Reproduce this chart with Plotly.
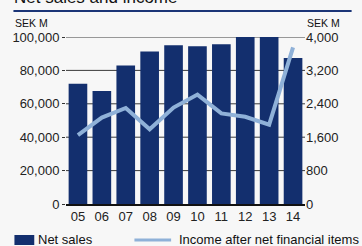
import plotly.graph_objects as go

years = ["05", "06", "07", "08", "09", "10", "11", "12", "13", "14"]
net_sales = [72000, 67700, 82900, 91300, 95000, 94400, 95600, 100500, 100500, 87400]
income = [1650, 2070, 2300, 1790, 2310, 2620, 2170, 2090, 1900, 3750]
left_ticks = [0, 20000, 40000, 60000, 80000, 100000]
right_ticks = [0, 800, 1600, 2400, 3200, 4000]

BAR = "#132f6e"
LINE = "#8fb1d8"
BG = "#f7f7f7"
FONT = "Liberation Sans, Arial, sans-serif"

W, H = 362, 246
ml, mr, mt, mb = 64, 57, 37, 42
pw, ph = W - ml - mr, H - mt - mb

def px(x):
    return (x - ml) / pw

def py(y):
    return (mt + ph - y) / ph

fig = go.Figure()
fig.add_trace(go.Bar(x=years, y=net_sales, marker=dict(color=BAR, line=dict(width=0)),
                     name="Net sales", showlegend=False))
fig.add_trace(go.Scatter(x=years, y=income, yaxis="y2", mode="lines",
                         line=dict(color=LINE, width=4), name="Income after net financial items",
                         showlegend=False))

fig.update_layout(
    width=W, height=H,
    margin=dict(l=ml, r=mr, t=mt, b=mb),
    paper_bgcolor=BG, plot_bgcolor=BG,
    font=dict(family=FONT, size=13, color="#222"),
    bargap=0.22,
    xaxis=dict(showgrid=False, showline=True, linecolor="#111", linewidth=1.5,
               ticks="", tickfont=dict(size=13)),
    yaxis=dict(range=[0, 100000], tickvals=left_ticks, tickformat=",",
               showgrid=False, zeroline=False,
               ticks="outside", ticklen=3, tickcolor="#333", showline=False,
               tickfont=dict(size=13)),
    yaxis2=dict(range=[0, 4000], tickvals=right_ticks, tickformat=",", overlaying="y",
                side="right", showgrid=False, zeroline=False, showline=False,
                ticks="", tickfont=dict(size=13)),
)

# Horizontal gridlines behind the bars
for v in left_ticks[1:]:
    fig.add_shape(type="line", xref="paper", yref="y", x0=0, x1=1, y0=v, y1=v,
                  layer="below", line=dict(color="#3a3a3a", width=1))

# Title (partially cropped at top) and rule
fig.add_annotation(text="Net sales and income", xref="paper", yref="paper",
                   x=px(10), y=py(9), xanchor="left", yanchor="bottom", showarrow=False,
                   font=dict(size=17, color="#111"))
fig.add_shape(type="line", xref="paper", yref="paper", x0=px(11), x1=px(352),
              y0=py(11), y1=py(11), line=dict(color="#1b3577", width=2))
fig.add_annotation(text="SEK M", xref="paper", yref="paper", x=px(11), y=py(23),
                   xanchor="left", yanchor="middle", showarrow=False,
                   font=dict(size=10.5, color="#111"))
fig.add_annotation(text="SEK M", xref="paper", yref="paper", x=px(305), y=py(23),
                   xanchor="left", yanchor="middle", showarrow=False,
                   font=dict(size=10.5, color="#111"))

# Legend
fig.add_shape(type="rect", xref="paper", yref="paper", x0=px(12), x1=px(32),
              y0=py(235), y1=py(245), fillcolor=BAR, line=dict(width=0))
fig.add_annotation(text="Net sales", xref="paper", yref="paper", x=px(34), y=py(239),
                   xanchor="left", yanchor="middle", showarrow=False,
                   font=dict(size=13, color="#111"))
fig.add_shape(type="line", xref="paper", yref="paper", x0=px(133), x1=px(170),
              y0=py(240), y1=py(240), line=dict(color=LINE, width=3))
fig.add_annotation(text="Income after net financial items", xref="paper", yref="paper",
                   x=px(176), y=py(239), xanchor="left", yanchor="middle", showarrow=False,
                   font=dict(size=13, color="#111"))

fig.write_html("out.html", config={"displayModeBar": False},
               post_script="document.body.style.margin='0';document.body.style.padding='0';"
                           "document.body.style.background='" + BG + "';")
